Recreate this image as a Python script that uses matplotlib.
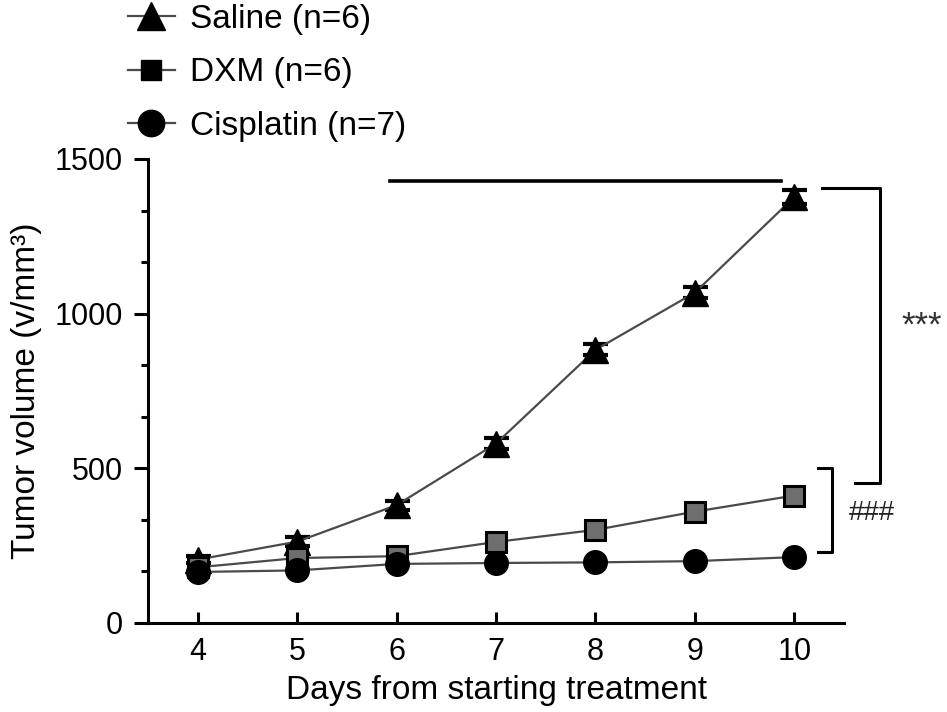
import matplotlib
matplotlib.use("Agg")
import matplotlib.pyplot as plt
from matplotlib.lines import Line2D
from matplotlib.ticker import MultipleLocator

plt.rcParams['font.family'] = ['Liberation Sans', 'DejaVu Sans']

days = [4, 5, 6, 7, 8, 9, 10]
saline = [205, 263, 381, 580, 883, 1068, 1377]
saline_err = [12, 15, 15, 17, 18, 18, 24]
dxm = [180, 210, 216, 262, 301, 360, 412]
cisplatin = [165, 170, 191, 194, 196, 200, 213]
labels = ["Saline (n=6)", "DXM (n=6)", "Cisplatin (n=7)"]
yticks = [0, 500, 1000, 1500]

line_col = '#4a4a4a'

fig = plt.figure(figsize=(9.47, 7.12), dpi=100)
ax = fig.add_axes([148 / 947, 1 - 623 / 712, 696 / 947, 464 / 712])

# series
ax.errorbar(days, saline, yerr=saline_err, color=line_col, lw=1.6,
            marker='^', ms=19, mfc='black', mec='black',
            ecolor='black', elinewidth=2, capsize=9, capthick=3, zorder=3)
ax.plot(days, dxm, color=line_col, lw=1.6, marker='s', ms=14,
        mfc='#6e6e6e', mec='black', mew=2.2, zorder=4)
ax.plot(days, cisplatin, color=line_col, lw=1.6, marker='o', ms=17,
        mfc='black', mec='black', zorder=5)

ax.set_xlim(3.5, 10.5)
ax.set_ylim(0, 1500)
ax.set_xticks(days)
ax.set_yticks(yticks)
ax.yaxis.set_minor_locator(MultipleLocator(500 / 3))

for s in ['top', 'right']:
    ax.spines[s].set_visible(False)
for s in ['left', 'bottom']:
    ax.spines[s].set_linewidth(2.2)

ax.tick_params(axis='x', direction='in', length=8, width=2.2, labelsize=22, pad=10)
ax.tick_params(axis='y', which='major', direction='out', length=10, width=2.2,
               labelsize=22, pad=8)
ax.tick_params(axis='y', which='minor', direction='out', length=5, width=2.2)

ax.set_xlabel("Days from starting treatment", fontsize=24)
ax.set_ylabel("Tumor volume (v/mm³)", fontsize=24)
ax.xaxis.set_label_coords(0.5, -0.112)
ax.yaxis.set_label_coords(-0.152, 0.5)

# significance marks
ax.plot([5.93, 9.87], [1429, 1429], color='black', lw=2.6, clip_on=False)
ax.plot([10.28, 10.86, 10.86, 10.61], [1406, 1406, 453, 453],
        color='black', lw=2.2, clip_on=False)
ax.text(11.08, 960, "***", fontsize=25, color='#333333', ha='left', va='center')
ax.plot([10.24, 10.38, 10.38, 10.24], [501, 501, 230, 230],
        color='black', lw=2.2, clip_on=False)
ax.text(10.55, 356, "###", fontsize=20, color='#222222', ha='left', va='center')

# legend
handles = [
    Line2D([], [], color=line_col, lw=1.6, marker='^', ms=20, mfc='black', mec='black'),
    Line2D([], [], color=line_col, lw=1.6, marker='s', ms=14, mfc='black', mec='black'),
    Line2D([], [], color=line_col, lw=1.6, marker='o', ms=19, mfc='black', mec='black'),
]
fig.legend(handles, labels, loc='upper left', bbox_to_anchor=(128 / 947, 0.995),
           frameon=False, fontsize=24, borderpad=0, borderaxespad=0,
           handlelength=1.4, handletextpad=0.45, labelspacing=0.68)

fig.savefig("out.png", dpi=100)
